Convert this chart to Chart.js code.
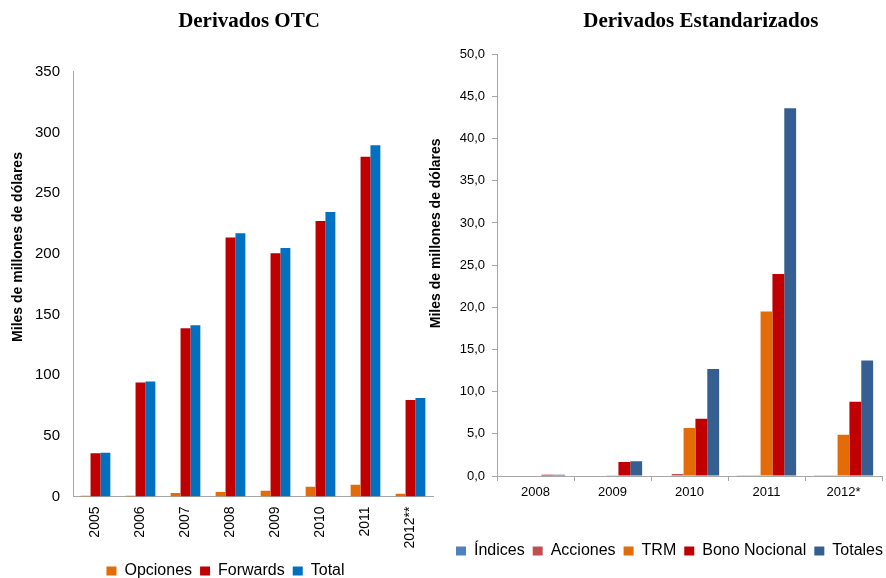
<!DOCTYPE html>
<html><head><meta charset="utf-8">
<script src="https://cdn.jsdelivr.net/npm/chart.js@4.4.0/dist/chart.umd.min.js"></script>
<style>
html,body{margin:0;padding:0;background:#fff;overflow:hidden;width:886px;height:578px;position:relative;}
.box{position:absolute;top:0;}
#w1{left:0;width:440px;height:589px;}
#w2{left:425px;width:467px;height:569px;}
</style></head><body>
<div class="box" id="w1"><canvas id="c1"></canvas></div>
<div class="box" id="w2"><canvas id="c2"></canvas></div>
<script>
// ---- Derivados OTC ----
const otcYears = ['2005','2006','2007','2008','2009','2010','2011','2012**'];
const otcOpciones = [0.7, 0.6, 2.9, 3.7, 4.8, 8.1, 9.7, 2.3];
const otcForwards = [35.6, 93.9, 138.7, 213.3, 200.4, 227.0, 280.0, 79.5];
const otcTotal    = [36.0, 94.7, 141.0, 216.9, 204.8, 234.5, 289.3, 81.2];

// ---- Derivados Estandarizados ----
const stdYears    = ['2008','2009','2010','2011','2012*'];
const stdIndices  = [0.0, 0.0, 0.0, 0.1, 0.1];
const stdAcciones = [0.0, 0.0, 0.25, 0.1, 0.1];
const stdTRM      = [0.0, 0.1, 5.7, 19.5, 4.9];
const stdBono     = [0.15, 1.65, 6.8, 23.95, 8.8];
const stdTotales  = [0.15, 1.75, 12.7, 43.6, 13.7];

const SANS = "'Liberation Sans', Arial, sans-serif";
const SERIF = "'Liberation Serif', 'Times New Roman', serif";
const AXIS = '#A6A6A6';

const titleShift = {
  id: 'titleShift',
  afterLayout(chart, args, opts) {
    const t = chart.titleBlock;
    if (t && opts.dx) { t.left += opts.dx; t.right += opts.dx; }
  }
};
const yTitle = {
  id: 'yTitle',
  afterDraw(chart, args, opts) {
    const ctx = chart.ctx;
    ctx.save();
    ctx.font = opts.font;
    ctx.fillStyle = opts.color;
    ctx.textAlign = 'center';
    ctx.textBaseline = 'middle';
    ctx.translate(opts.x, opts.y);
    ctx.rotate(-Math.PI / 2);
    ctx.fillText(opts.text, 0, 0);
    ctx.restore();
  }
};

const legendOpts = {
  position: 'bottom',
  labels: { boxWidth: 10, boxHeight: 9, padding: 8, color: '#000', font: { family: SANS, size: 16 } }
};

new Chart(document.getElementById('c1'), {
  type: 'bar',
  data: {
    labels: otcYears,
    datasets: [
      { label: 'Opciones', data: otcOpciones, backgroundColor: '#E36C09' },
      { label: 'Forwards', data: otcForwards, backgroundColor: '#C00000' },
      { label: 'Total', data: otcTotal, backgroundColor: '#0070C0' }
    ]
  },
  options: {
    responsive: true, maintainAspectRatio: false, animation: false,
    datasets: { bar: { categoryPercentage: 0.66, barPercentage: 1.0, borderWidth: 0 } },
    layout: { padding: { left: 18, right: 7, top: 0, bottom: 0 } },
    plugins: {
      title: { display: true, text: 'Derivados OTC', color: '#000',
               font: { family: SERIF, size: 21, weight: 'bold' }, padding: { top: 9.4, bottom: 37.1 } },
      titleShift: { dx: 23.5 },
      yTitle: { text: 'Miles de millones de dólares', x: 18.5, y: 247, color: '#000', font: 'bold 14px ' + SANS },
      legend: legendOpts,
      tooltip: { enabled: false }
    },
    scales: {
      x: {
        grid: { display: false, drawTicks: false },
        border: { display: true, color: AXIS, width: 1 },
        ticks: { color: '#000', font: { family: SANS, size: 14 }, minRotation: 90, maxRotation: 90, padding: 10, autoSkip: false },
        afterFit(s) { s.height = 58.5; }
      },
      y: {
        min: 0, max: 350,
        grid: { display: false, drawTicks: false },
        border: { display: true, color: AXIS, width: 1 },
        ticks: { stepSize: 50, color: '#000', font: { family: SANS, size: 15 }, padding: 13 },
        afterFit(s) { s.width = 55; }
      }
    }
  },
  plugins: [titleShift, yTitle]
});

new Chart(document.getElementById('c2'), {
  type: 'bar',
  data: {
    labels: stdYears,
    datasets: [
      { label: 'Índices', data: stdIndices, backgroundColor: '#4F81BD' },
      { label: 'Acciones', data: stdAcciones, backgroundColor: '#C0504D' },
      { label: 'TRM', data: stdTRM, backgroundColor: '#E36C09' },
      { label: 'Bono Nocional', data: stdBono, backgroundColor: '#C00000' },
      { label: 'Totales', data: stdTotales, backgroundColor: '#365F91' }
    ]
  },
  options: {
    responsive: true, maintainAspectRatio: false, animation: false,
    datasets: { bar: { categoryPercentage: 0.77, barPercentage: 1.0, borderWidth: 0 } },
    layout: { padding: { left: 22, right: 0, top: 0, bottom: 0 } },
    plugins: {
      title: { display: true, text: 'Derivados Estandarizados', color: '#000',
               font: { family: SERIF, size: 21, weight: 'bold' }, padding: { top: 9.4, bottom: 19.7 } },
      titleShift: { dx: 31.3 },
      yTitle: { text: 'Miles de millones de dólares', x: 11, y: 233.3, color: '#000', font: 'bold 14px ' + SANS },
      legend: legendOpts,
      tooltip: { enabled: false }
    },
    scales: {
      x: {
        grid: { display: true, drawOnChartArea: false, drawTicks: true, tickLength: 5, color: AXIS, offset: true },
        border: { display: true, color: AXIS, width: 1 },
        ticks: { color: '#000', font: { family: SANS, size: 13 }, maxRotation: 0, padding: 4, autoSkip: false },
        afterFit(s) { s.height = 59; }
      },
      y: {
        min: 0, max: 50,
        grid: { display: true, drawOnChartArea: false, drawTicks: true, tickLength: 5, color: AXIS },
        border: { display: true, color: AXIS, width: 1 },
        ticks: { stepSize: 5, color: '#000', font: { family: SANS, size: 13 }, padding: 7,
                 callback: v => v.toFixed(1).replace('.', ',') },
        afterFit(s) { s.width = 50; }
      },
      y2: {
        position: 'right', display: true,
        grid: { display: false, drawTicks: false },
        border: { display: false },
        ticks: { display: false },
        afterFit(s) { s.width = 10; }
      }
    }
  },
  plugins: [titleShift, yTitle]
});
</script>
</body></html>
